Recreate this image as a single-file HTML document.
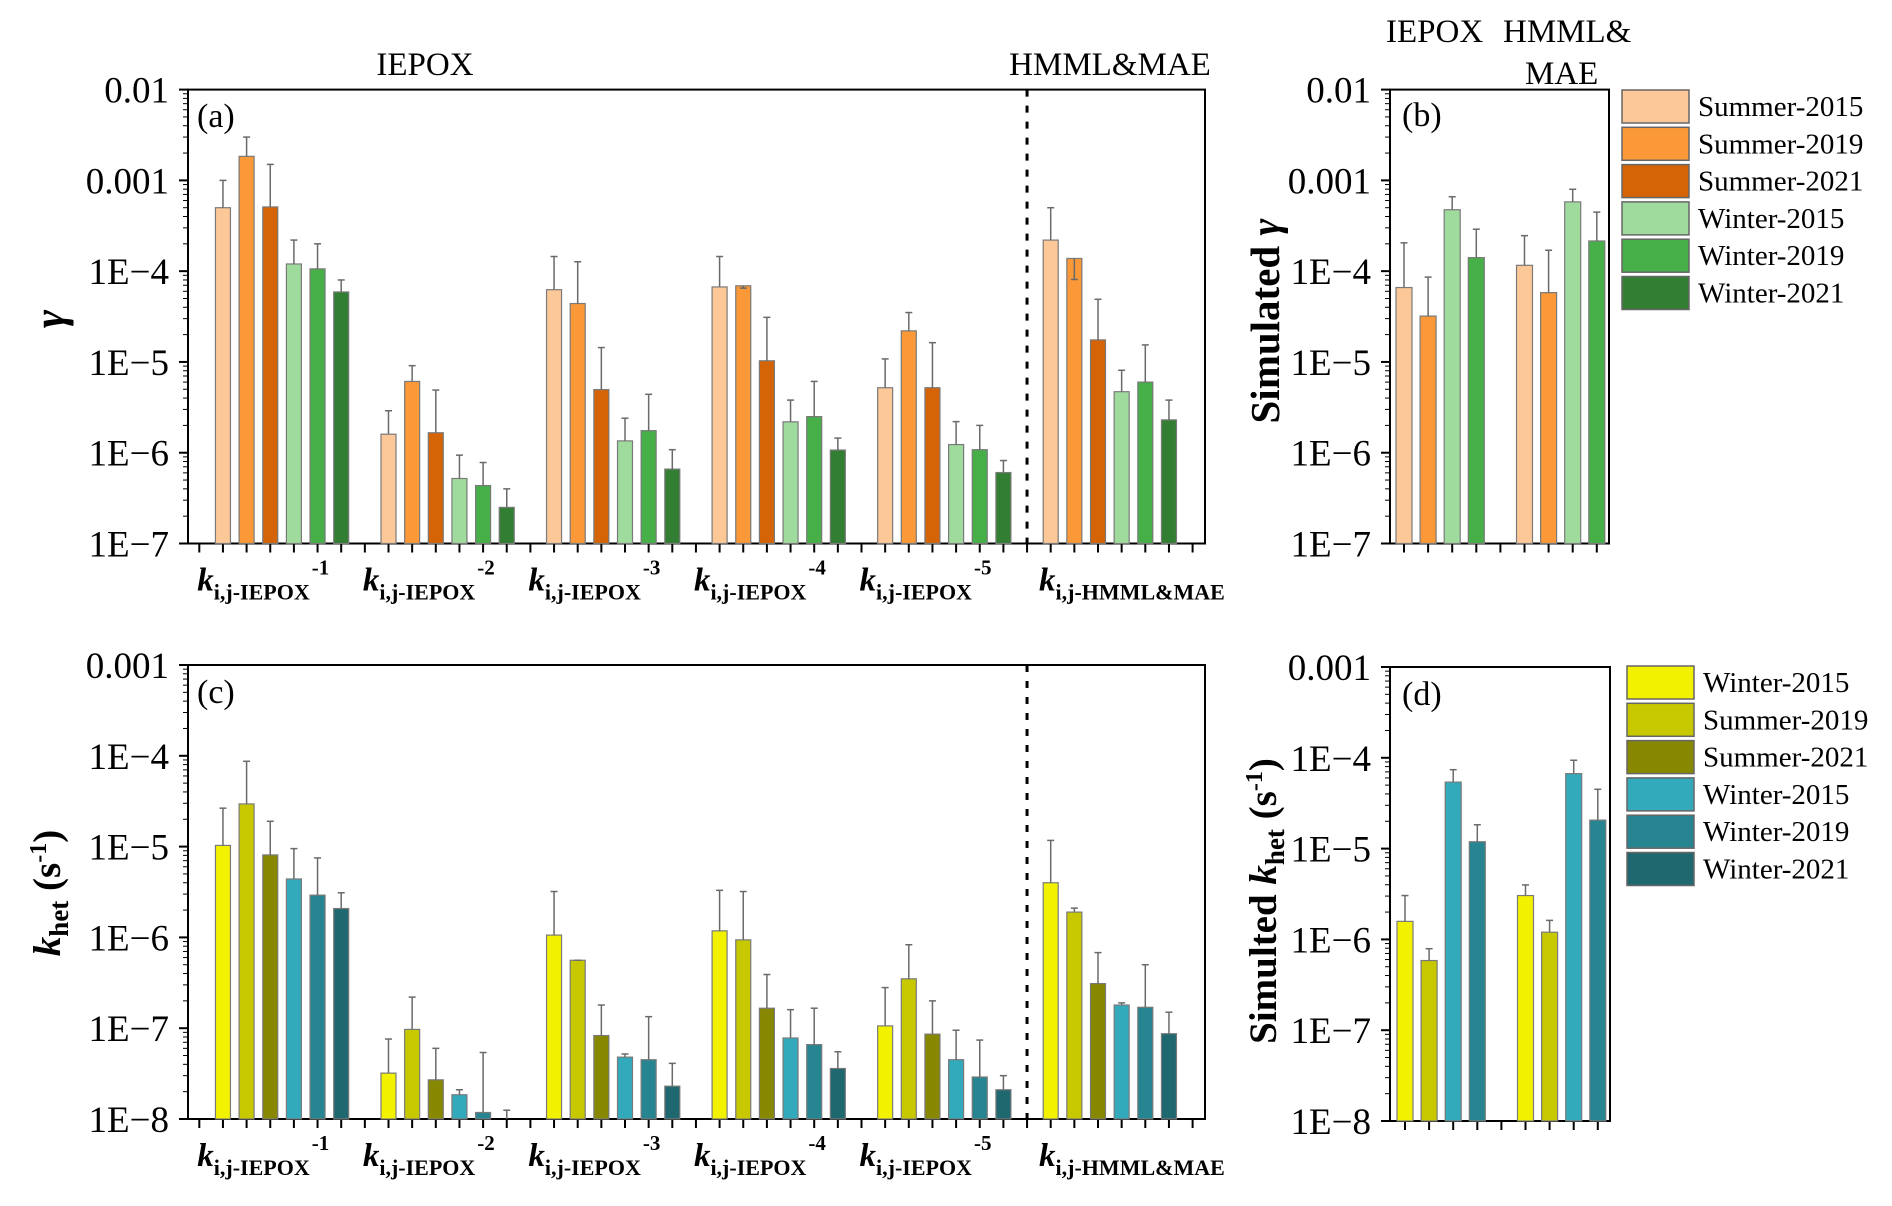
<!DOCTYPE html>
<html><head><meta charset="utf-8"><style>
html,body{margin:0;padding:0;background:#fff;}
svg{display:block;font-family:"Liberation Serif",serif;}
</style></head><body>
<svg id="chart" width="1892" height="1206" viewBox="0 0 1892 1206" xmlns="http://www.w3.org/2000/svg">
<g id="root"></g>
</svg>
<script>
// ---- data ----
const groupLabelsSup = ["-1","-2","-3","-4","-5",""];
const seriesTop = ["Summer-2015","Summer-2019","Summer-2021","Winter-2015","Winter-2019","Winter-2021"];
const seriesBottom = ["Winter-2015","Summer-2019","Summer-2021","Winter-2015","Winter-2019","Winter-2021"];
const colorsTop = ["#FDC898","#FB9838","#D46406","#A0DB9E","#46AF48","#327E33"];
const colorsBottom = ["#F2F200","#C8C800","#878700","#33AABB","#278592","#1F6870"];
// panel a: [group][series]
const gammaVals = [
 [5.0e-4,1.84e-3,5.1e-4,1.2e-4,1.06e-4,5.9e-5],
 [1.6e-6,6.1e-6,1.66e-6,5.2e-7,4.35e-7,2.5e-7],
 [6.25e-5,4.4e-5,4.96e-6,1.35e-6,1.75e-6,6.6e-7],
 [6.7e-5,6.9e-5,1.03e-5,2.19e-6,2.5e-6,1.07e-6],
 [5.2e-6,2.2e-5,5.2e-6,1.23e-6,1.08e-6,6.05e-7],
 [2.2e-4,1.38e-4,1.75e-5,4.7e-6,6.0e-6,2.3e-6]];
const gammaErr = [
 [1.0e-3,3.0e-3,1.5e-3,2.2e-4,2.0e-4,8.0e-5],
 [2.9e-6,9.1e-6,4.9e-6,9.4e-7,7.8e-7,4.0e-7],
 [1.45e-4,1.27e-4,1.44e-5,2.4e-6,4.4e-6,1.08e-6],
 [1.45e-4,6.5e-5,3.1e-5,3.8e-6,6.1e-6,1.45e-6],
 [1.08e-5,3.5e-5,1.63e-5,2.2e-6,2.0e-6,8.2e-7],
 [5.0e-4,8.1e-5,4.9e-5,8.1e-6,1.54e-5,3.8e-6]];
// panel b: [group][S15,S19,W15,W19]
const simGammaVals = [[6.6e-5,3.2e-5,4.75e-4,1.41e-4],[1.16e-4,5.8e-5,5.8e-4,2.15e-4]];
const simGammaErr = [[2.05e-4,8.6e-5,6.6e-4,2.9e-4],[2.46e-4,1.7e-4,7.98e-4,4.47e-4]];
const simSeriesIdx = [0,1,3,4];
// panel c
const khetVals = [
 [1.03e-5,2.95e-5,8.1e-6,4.4e-6,2.92e-6,2.08e-6],
 [3.2e-8,9.7e-8,2.7e-8,1.85e-8,1.18e-8,9e-9],
 [1.06e-6,5.6e-7,8.3e-8,4.8e-8,4.5e-8,2.3e-8],
 [1.18e-6,9.4e-7,1.66e-7,7.8e-8,6.6e-8,3.6e-8],
 [1.06e-7,3.5e-7,8.6e-8,4.5e-8,2.9e-8,2.1e-8],
 [4.0e-6,1.9e-6,3.1e-7,1.8e-7,1.7e-7,8.7e-8]];
const khetErr = [
 [2.65e-5,8.7e-5,1.9e-5,9.5e-6,7.5e-6,3.1e-6],
 [7.6e-8,2.2e-7,6.0e-8,2.1e-8,5.4e-8,1.25e-8],
 [3.2e-6,5.6e-7,1.8e-7,5.2e-8,1.34e-7,4.1e-8],
 [3.3e-6,3.2e-6,3.9e-7,1.6e-7,1.66e-7,5.5e-8],
 [2.8e-7,8.3e-7,2.0e-7,9.5e-8,7.4e-8,3.0e-8],
 [1.17e-5,2.1e-6,6.8e-7,1.9e-7,5.0e-7,1.5e-7]];
// panel d
const simKhetVals = [[1.58e-6,5.85e-7,5.4e-5,1.19e-5],[3.04e-6,1.2e-6,6.7e-5,2.06e-5]];
const simKhetErr = [[3.04e-6,7.9e-7,7.4e-5,1.83e-5],[3.98e-6,1.62e-6,9.4e-5,4.5e-5]];
const tickLabelsA = ["0.01","0.001","1E\u22124","1E\u22125","1E\u22126","1E\u22127"];
const tickLabelsC = ["0.001","1E\u22124","1E\u22125","1E\u22126","1E\u22127","1E\u22128"];

// ---- drawing ----
const NS="http://www.w3.org/2000/svg";
const root=document.getElementById('root');
function mk(tag,attrs,parent,txt){const e=document.createElementNS(NS,tag);for(const k in attrs)e.setAttribute(k,attrs[k]);if(txt!==undefined)e.textContent=txt;(parent||root).appendChild(e);return e;}

function logScale(top,bottom,maxExp,minExp){
  return v=>{const l=Math.log10(Math.max(v,Math.pow(10,minExp-0.5)));let y=top+(maxExp-l)/(maxExp-minExp)*(bottom-top);return Math.min(y,bottom);};
}

function drawAxes(g,L,R,T,B,maxExp,minExp,labels,slotX,nSlots){
  const y=logScale(T,B,maxExp,minExp);
  mk('rect',{x:L,y:T,width:R-L,height:B-T,fill:'none',stroke:'#000','stroke-width':2},g);
  for(let e=maxExp;e>=minExp;e--){
    const yy=y(Math.pow(10,e));
    const t=mk('line',{x1:L-9,x2:L,y1:yy,y2:yy,stroke:'#000','stroke-width':2},g);
    
    const lb=mk('text',{x:L-19,y:yy+13,'font-size':37,'text-anchor':'end'},g,labels[maxExp-e]);
    
    
    if(e>minExp){for(let m=2;m<=9;m++){const ym=y(m*Math.pow(10,e-1));mk('line',{x1:L-5,x2:L,y1:ym,y2:ym,stroke:'#000','stroke-width':1},g);}}
  }
  for(let s=0;s<=nSlots;s++){const xx=slotX(s);const t=mk('line',{x1:xx,x2:xx,y1:B,y2:B+9,stroke:'#000','stroke-width':2},g);}
  return y;
}

function bar(g,x,w,yv,yb,ye,color,name){
  const r=mk('rect',{x:x-w/2,y:yv,width:w,height:Math.max(0,yb-yv),fill:color,stroke:'#7a7a7a','stroke-width':1.2},g);
  
  
  const l=mk('line',{x1:x,x2:x,y1:yv,y2:ye,stroke:'#6a6a6a','stroke-width':1.5},g);
  
  const c=mk('line',{x1:x-3.5,x2:x+3.5,y1:ye,y2:ye,stroke:'#6a6a6a','stroke-width':1.5},g);
  
}

function bigPanel(T,B,maxExp,minExp,labels,vals,errs,colors,series,pname){
  const g=mk('g',{});  
  const L=188,R=1205,x0=199.3,slot=23.65;
  const sx=s=>x0+s*slot;
  const y=drawAxes(g,L,R,T,B,maxExp,minExp,labels,sx,42);
  vals.forEach((grp,gi)=>grp.forEach((v,j)=>{
    bar(g,sx(1+7*gi+j),15,y(v),B,y(errs[gi][j]),colors[j],'bar-'+series[j].toLowerCase()+'-group'+(gi+1));
  }));
  const dl=mk('line',{x1:sx(35),x2:sx(35),y1:T,y2:B,stroke:'#000','stroke-width':3,'stroke-dasharray':'7,9'},g);
  
  for(let gi=0;gi<6;gi++){
    const xs=gi<5?sx(7*gi)-2:sx(35)+12;
    const t=mk('text',{x:xs,y:B+47,'font-weight':'bold'},g);
    
    
    mk('tspan',{'font-style':'italic','font-size':33},t,'k');
    mk('tspan',{'font-size':22,dy:9},t,gi<5?'i,j-IEPOX':'i,j-HMML&MAE');
    if(groupLabelsSup[gi]) mk('tspan',{'font-size':21,dy:-25,dx:2},t,groupLabelsSup[gi]);
  }
  return g;
}

function smallPanel(L,R,T,B,maxExp,minExp,labels,vals,errs,colors,series,pname,x0,slot){
  const g=mk('g',{});  
  const sx=s=>x0+s*slot;
  const y=drawAxes(g,L,R,T,B,maxExp,minExp,labels,sx,8);
  vals.forEach((grp,gi)=>grp.forEach((v,j)=>{
    const si=simSeriesIdx[j];
    bar(g,sx(5*gi+j),16,y(v),B,y(errs[gi][j]),colors[si],'bar-'+series[si].toLowerCase()+'-sim'+(gi+1));
  }));
  return g;
}

function legend(x,y0,colors,series,name){
  const g=mk('g',{});  
  series.forEach((s,i)=>{
    const yy=y0+i*37.3;
    const r=mk('rect',{x:x,y:yy,width:67,height:33,fill:colors[i],stroke:'#666','stroke-width':1.5},g);
    
    const t=mk('text',{x:x+76,y:yy+26,'font-size':29},g,s);
    
    
  });
}

function txt(x,y,s,attrs,name){const t=mk('text',Object.assign({x:x,y:y},attrs),root,s);return t;}

bigPanel(89.6,543.5,-2,-7,tickLabelsA,gammaVals,gammaErr,colorsTop,seriesTop,'panel-a');
bigPanel(665,1119,-3,-8,tickLabelsC,khetVals,khetErr,colorsBottom,seriesBottom,'panel-c');
smallPanel(1390,1609,89.6,543.5,-2,-7,tickLabelsA,simGammaVals,simGammaErr,colorsTop,seriesTop,'panel-b',1404,24.1);
smallPanel(1390,1610,667,1121,-3,-8,tickLabelsC,simKhetVals,simKhetErr,colorsBottom,seriesBottom,'panel-d',1405,24.1);

legend(1622,90,colorsTop,seriesTop,'legend-top');
legend(1627,666,colorsBottom,seriesBottom,'legend-bottom');

txt(197,127,'(a)',{'font-size':34},'panel-label-a');
txt(1402,126,'(b)',{'font-size':34},'panel-label-b');
txt(197,703,'(c)',{'font-size':34},'panel-label-c');
txt(1402,705,'(d)',{'font-size':34},'panel-label-d');
txt(425,75,'IEPOX',{'font-size':33,'text-anchor':'middle'},'iepox-title');
txt(1110,75,'HMML&MAE',{'font-size':33,'text-anchor':'middle'},'hmml-mae-title');
txt(1386,42,'IEPOX',{'font-size':33},'sim-iepox-title');
txt(1503,42,'HMML&',{'font-size':33},'sim-hmml-title');
txt(1525,84,'MAE',{'font-size':33},'sim-mae-title');
txt(0,0,'\u03B3',{'font-size':44,'font-weight':'bold','font-style':'italic','text-anchor':'middle',transform:'translate(64,319) rotate(-90)'},'y-axis-title-a');
const tb=txt(0,0,'Simulated ',{'font-size':41,'font-weight':'bold','text-anchor':'middle',transform:'translate(1279,321) rotate(-90)'},'y-axis-title-b');
mk('tspan',{'font-style':'italic'},tb,'\u03B3');
const tc=txt(0,0,'',{'font-size':39,'font-weight':'bold','text-anchor':'middle',transform:'translate(60,893) rotate(-90)'},'y-axis-title-c');
mk('tspan',{'font-style':'italic'},tc,'k');
mk('tspan',{'font-size':27,dy:8},tc,'het');
mk('tspan',{dy:-8},tc,' (s');
mk('tspan',{'font-size':24,dy:-14},tc,'-1');
mk('tspan',{dy:14},tc,')');
const td=txt(0,0,'Simulted ',{'font-size':39,'font-weight':'bold','text-anchor':'middle',transform:'translate(1276,901) rotate(-90)'},'y-axis-title-d');
mk('tspan',{'font-style':'italic'},td,'k');
mk('tspan',{'font-size':27,dy:8},td,'het');
mk('tspan',{dy:-8},td,' (s');
mk('tspan',{'font-size':24,dy:-14},td,'-1');
mk('tspan',{dy:14},td,')');
</script>
</body></html>
